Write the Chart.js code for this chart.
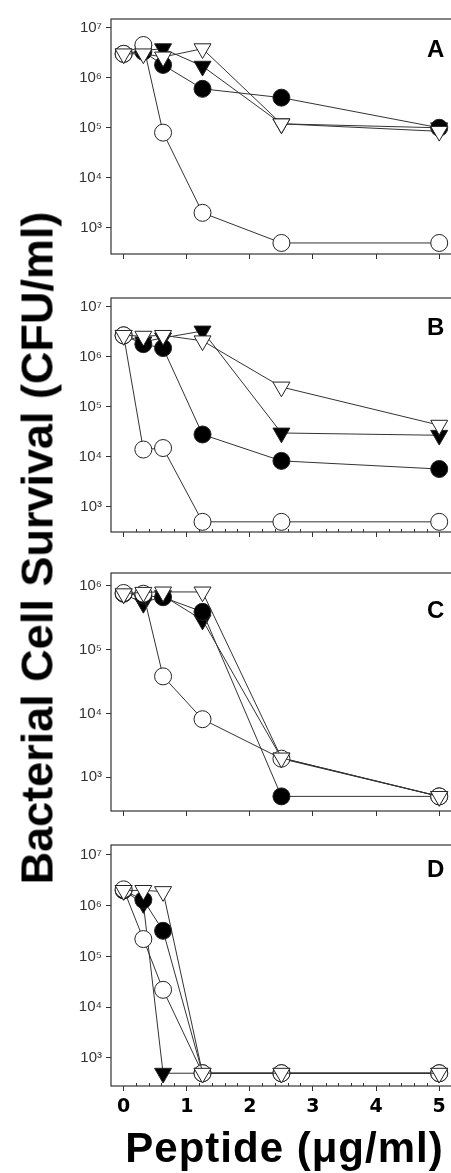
<!DOCTYPE html>
<html>
<head>
<meta charset="utf-8">
<script src="https://cdn.jsdelivr.net/npm/chart.js@4.4.1/dist/chart.umd.min.js"></script>
<style>
  html, body { margin: 0; padding: 0; background: #fff; }
  #fig { position: relative; width: 451px; height: 1173px; overflow: hidden; font-family: "Liberation Sans", Arial, sans-serif; color: #000; }
  .panel { position: absolute; left: 0; width: 455px; }
  .letter { position: absolute; left: 427px; font-weight: bold; font-size: 24px; line-height: 24px; }
  #ytitle { position: absolute; left: 36.6px; top: 547.5px; transform: translate(-50%, -50%) rotate(-90deg);
            white-space: nowrap; font-weight: bold; font-size: 45px; line-height: 45px; }
  #xtitle { position: absolute; left: 284.5px; top: 1127px; transform: translateX(-50%);
            white-space: nowrap; font-weight: bold; font-size: 42px; line-height: 42px; letter-spacing: 1px; }
</style>
</head>
<body>
<div id="fig">
  <div class="panel" id="pA"><canvas id="chartA"></canvas></div>
  <div class="panel" id="pB"><canvas id="chartB"></canvas></div>
  <div class="panel" id="pC"><canvas id="chartC"></canvas></div>
  <div class="panel" id="pD"><canvas id="chartD"></canvas></div>
  <div class="letter" style="top:37px">A</div>
  <div class="letter" style="top:315px">B</div>
  <div class="letter" style="top:598px">C</div>
  <div class="letter" style="top:857px">D</div>
  <div id="ytitle">Bacterial Cell Survival (CFU/ml)</div>
  <div id="xtitle">Peptide (μg/ml)</div>
</div>
<script>
// peptide doses (µg/ml)
const doses = [0, 0.3125, 0.625, 1.25, 2.5, 5];
const xTicks = [0, 1, 2, 3, 4, 5];
const xMinorTicks = [0.2, 0.4, 0.6, 0.8, 1.2, 1.4, 1.6, 1.8, 2.2, 2.4, 2.6, 2.8,
                     3.2, 3.4, 3.6, 3.8, 4.2, 4.4, 4.6, 4.8, 5.2];
const yTicks7 = [1e3, 1e4, 1e5, 1e6, 1e7];
const yTicks6 = [1e3, 1e4, 1e5, 1e6];

// panel A
const aOpenCircle     = [3e6, 4.5e6, 8e4, 2e3, 5e2, 5e2];
const aFilledCircle   = [3e6, 3.3e6, 1.8e6, 6e5, 4e5, 1e5];
const aFilledTriangle = [3e6, 3.5e6, 3.8e6, 1.7e6, 1.2e5, 1e5];
const aOpenTriangle   = [3e6, 3e6, 2.6e6, 3.8e6, 1.2e5, 8.5e4];

// panel B
const bOpenCircle     = [2.7e6, 1.4e4, 1.5e4, 5e2, 5e2, 5e2];
const bFilledCircle   = [2.7e6, 1.8e6, 1.5e6, 2.8e4, 8.3e3, 5.7e3];
const bFilledTriangle = [2.7e6, 2e6, 2.4e6, 3.3e6, 3e4, 2.7e4];
const bOpenTriangle   = [2.7e6, 2.6e6, 2.7e6, 2.1e6, 2.5e5, 4.3e4];

// panel C
const cOpenCircle     = [7.7e5, 7.5e5, 3.8e4, 8.1e3, 1.95e3, 5e2];
const cFilledCircle   = [7.5e5, 7e5, 6.6e5, 3.9e5, 5e2, 5e2];
const cFilledTriangle = [7.5e5, 5.3e5, 7e5, 2.9e5, 2e3, 5e2];
const cOpenTriangle   = [7.5e5, 7.9e5, 8e5, 8e5, 2e3, 5e2];

// panel D
const dOpenCircle     = [2.1e6, 2.2e5, 2.2e4, 5e2, 5e2, 5e2];
const dFilledCircle   = [2e6, 1.3e6, 3.2e5, 5e2, 5e2, 5e2];
const dFilledTriangle = [2e6, 1.1e6, 5e2, 5e2, 5e2, 5e2];
const dOpenTriangle   = [2e6, 2e6, 1.9e6, 5e2, 5e2, 5e2];

const sup = { 3: '³', 4: '⁴', 5: '⁵', 6: '⁶', 7: '⁷' };

// frame round the plot area + small inner minor ticks
const framePlugin = {
  id: 'frame',
  beforeDatasetsDraw(chart, args, opts) {
    const { ctx, chartArea: a } = chart;
    ctx.save();
    ctx.strokeStyle = '#333';
    ctx.lineWidth = 1.2;
    ctx.strokeRect(a.left, a.top, a.right - a.left, a.bottom - a.top);
    if (opts.minor) {
      ctx.lineWidth = 1;
      ctx.beginPath();
      xMinorTicks.forEach(v => {
        const px = Math.round(chart.scales.x.getPixelForValue(v)) + 0.5;
        ctx.moveTo(px, a.bottom);
        ctx.lineTo(px, a.bottom - 3);
      });
      ctx.stroke();
    }
    ctx.restore();
  }
};

const styles = [
  { style: 'circle',   radius: 8.5, fill: '#fff', order: 1 },  // open circle
  { style: 'circle',   radius: 8.5, fill: '#000', order: 2 },  // filled circle
  { style: 'triangle', radius: 9.8, fill: '#000', order: 3 },  // filled triangle down
  { style: 'triangle', radius: 9.8, fill: '#fff', order: 0 }   // open triangle down
];

const makeDataset = (values, s) => ({
  data: doses.map((d, i) => ({ x: d, y: values[i] })),
  borderColor: '#333',
  borderWidth: 1,
  pointStyle: s.style,
  pointRadius: s.radius,
  pointRotation: s.style === 'triangle' ? 180 : 0,
  pointBackgroundColor: s.fill,
  pointBorderColor: '#222',
  pointBorderWidth: 1,
  tension: 0,
  fill: false,
  clip: false,
  order: s.order
});

const drawPanel = (id, boxId, cfg, series) => {
  const box = document.getElementById(boxId);
  const canvas = document.getElementById(id);
  const pad = 10;
  const h = cfg.bottom - cfg.top + pad + cfg.axisH;
  box.style.top = (cfg.top - pad) + 'px';
  box.style.height = h + 'px';
  canvas.width = 455;
  canvas.height = h;

  new Chart(canvas, {
    type: 'line',
    data: { datasets: series.map((v, i) => makeDataset(v, styles[i])) },
    options: {
      responsive: false,
      animation: false,
      events: [],
      layout: { autoPadding: false, padding: { top: pad, left: 0, right: 0, bottom: 0 } },
      plugins: { legend: { display: false }, tooltip: { enabled: false }, frame: { minor: cfg.minor } },
      scales: {
        x: {
          type: 'linear',
          min: -0.2,
          max: 5.25,
          afterBuildTicks: s => { s.ticks = xTicks.map(v => ({ value: v })); },
          afterFit: s => { s.height = cfg.axisH; },
          border: { display: false },
          grid: { drawOnChartArea: false, drawTicks: true, tickLength: 5, color: '#333' },
          ticks: {
            display: cfg.labels,
            padding: 5,
            color: '#000',
            font: { family: 'DejaVu Sans', weight: 'bold', size: 19 }
          }
        },
        y: {
          type: 'logarithmic',
          min: cfg.yMin,
          max: cfg.yMax,
          afterBuildTicks: s => { s.ticks = cfg.yTicks.map(v => ({ value: v })); },
          afterFit: s => { s.width = 111; },
          border: { display: false },
          grid: { drawOnChartArea: false, drawTicks: true, tickLength: 5, color: '#333' },
          ticks: {
            padding: 4,
            color: '#333',
            font: { family: 'Liberation Sans', size: 15 },
            callback: v => '10' + sup[Math.round(Math.log10(v))]
          }
        }
      }
    },
    plugins: [framePlugin]
  });
};

drawPanel('chartA', 'pA',
  { top: 16, bottom: 259, axisH: 8, yMin: 301, yMax: 1.49e7, yTicks: yTicks7, minor: false, labels: false },
  [aOpenCircle, aFilledCircle, aFilledTriangle, aOpenTriangle]);
drawPanel('chartB', 'pB',
  { top: 295, bottom: 537, axisH: 8, yMin: 313, yMax: 1.51e7, yTicks: yTicks7, minor: true, labels: false },
  [bOpenCircle, bFilledCircle, bFilledTriangle, bOpenTriangle]);
drawPanel('chartC', 'pC',
  { top: 570, bottom: 816, axisH: 8, yMin: 295, yMax: 1.585e6, yTicks: yTicks6, minor: false, labels: false },
  [cOpenCircle, cFilledCircle, cFilledTriangle, cOpenTriangle]);
drawPanel('chartD', 'pD',
  { top: 842, bottom: 1086, axisH: 40, yMin: 280, yMax: 1.57e7, yTicks: yTicks7, minor: true, labels: true },
  [dOpenCircle, dFilledCircle, dFilledTriangle, dOpenTriangle]);
</script>
</body>
</html>
